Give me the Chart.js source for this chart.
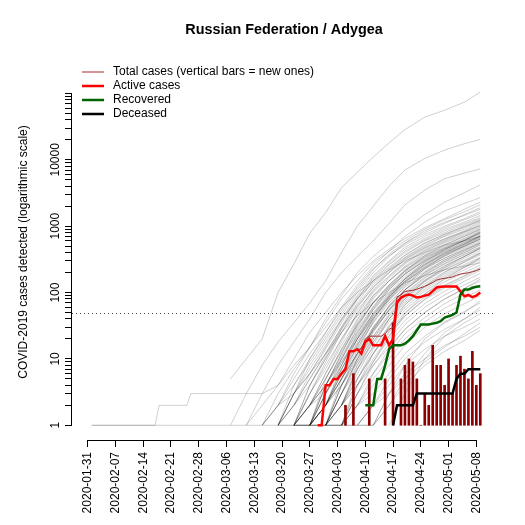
<!DOCTYPE html>
<html>
<head>
<meta charset="utf-8">
<script src="https://cdn.jsdelivr.net/npm/chart.js@4.4.1/dist/chart.umd.min.js"></script>
<style>
  html, body { margin: 0; padding: 0; background: #fff; }
  #chart { display: block; }
</style>
</head>
<body>
<canvas id="chart" width="525" height="525"></canvas>
<script>
const _ = null;
const FONT = '"Liberation Sans", Arial, Helvetica, sans-serif';

const chartTitle = 'Russian Federation / Adygea';
const yAxisTitle = 'COVID-2019 cases detected (logarithmic scale)';
const tickDates = ['2020-01-31', '2020-02-07', '2020-02-14', '2020-02-21', '2020-02-28',
  '2020-03-06', '2020-03-13', '2020-03-20', '2020-03-27', '2020-04-03', '2020-04-10',
  '2020-04-17', '2020-04-24', '2020-05-01', '2020-05-08'];
const yLabelTicks = [1, 10, 100, 1000, 10000];
const thresholdCases = 50;

// Adygea, one value per day starting at day 58 (days counted from 2020-01-31)
const adygeaFirstDay = 58;
const totalCases = [1, 1, 4, 4, 5, 5, 6, 7, 13, 13, 14, 14,
  20, 22, 22, 22, 22, 24, 28, 30, 86, 92,
  104, 106, 108, 112, 118, 124, 132, 142, 154, 160,
  164, 167, 172, 182, 190, 194, 199, 206, 214, 227];
const activeCases = [1, 1, 4, 4, 5, 5, 6, 7, 13, 13, 14, 12,
  18, 20, 16, 16, 16, 22, 16, 20, 70, 84,
  90, 93, 90, 84, 86, 90, 93, 105, 119, 122,
  123, 123, 123, 123, 104, 88, 92, 85, 90, 100];
const recoveredCases = [_, _, _, _, _, _, _, _, _, _, _, _,
  2, 2, 2, 5, 5, 8, 14, 16, 16, 16,
  17, 19, 22, 27, 33, 33, 33, 34, 35, 37,
  42, 44, 46, 50, 93, 111, 111, 118, 122, 124];
const deceasedCases = [_, _, _, _, _, _, _, _, _, _, _, _,
  _, _, _, _, _, _, _, 1, 2, 2,
  2, 2, 2, 3, 3, 3, 3, 3, 3, 3,
  3, 3, 3, 5, 6, 6, 7, 7, 7, 7];
const newCases = [_, _, _, _, _, _, _, 2, _, 6, _, _,
  _, 5, _, _, _, 5, _, 35, _, 5,
  8, 10, 9, 5, 1, 3, 2, 16, 8, 8,
  4, 10, 3, 8, 11, 7, 5, 13, 4, 6];

// other regions (grey): early / leading regions
const leadDays = [1, 17, 18, 25, 26, 33, 36, 40, 44, 48, 52, 56, 60, 64, 68, 72, 76, 80, 85, 90, 95, 99];
const leadRegions = [
  [1, 1, 2, 2, 3, 3, 3, 3, 3, 4, 8, 15, 30, 60, 100, 150, 220, 300, 400, 520, 600, 700],
  [1, 1, 1, 1, 1, 1, 1, 1, 1, 2, 3, 6, 12, 25, 45, 70, 100, 140, 180, 220, 250, 280],
  [_, _, _, _, _, _, 5, 10, 20, 100, 270, 780, 1600, 3800, 6500, 11000, 18000, 28500, 44000, 56000, 74000, 105000],
  [_, _, _, _, _, _, 1, 3, 8, 18, 35, 70, 150, 400, 1000, 2000, 4000, 7000, 10500, 14000, 17500, 20300],
  [_, _, _, _, _, _, _, 1, 3, 8, 18, 40, 100, 200, 350, 600, 1100, 2100, 3500, 5200, 6300, 7300],
  [_, _, _, _, _, _, _, _, 1, 2, 6, 15, 40, 90, 200, 350, 550, 900, 1500, 2300, 3200, 4200],
  [_, _, _, _, _, _, _, _, _, 1, 3, 10, 25, 60, 130, 250, 420, 700, 1150, 1700, 2200, 2700]
];

// other regions (grey): the main bundle
const bundleDays = [36, 40, 44, 48, 52, 56, 60, 64, 68, 72, 76, 80, 85, 90, 95, 99];
const bundleRegions = [
  [_, 1, 2, 4, 10, 25, 50, 100, 180, 300, 450, 650, 950, 1300, 1800, 2300],
  [_, _, 1, 3, 7, 15, 35, 80, 150, 280, 420, 600, 900, 1250, 1650, 2100],
  [_, _, 1, 2, 4, 9, 20, 45, 100, 200, 350, 550, 800, 1100, 1500, 1900],
  [_, _, _, 1, 4, 10, 22, 50, 110, 220, 380, 560, 850, 1150, 1450, 1800],
  [_, _, _, 2, 5, 12, 25, 55, 120, 230, 360, 520, 750, 1000, 1300, 1650],
  [_, _, _, 1, 3, 6, 15, 40, 90, 180, 300, 480, 700, 950, 1250, 1550],
  [_, _, 1, 1, 2, 5, 12, 30, 80, 170, 290, 450, 650, 900, 1150, 1450],
  [_, _, _, 1, 2, 6, 14, 35, 85, 160, 270, 420, 620, 850, 1100, 1350],
  [_, _, _, _, 1, 4, 10, 28, 70, 150, 260, 400, 600, 800, 1050, 1300],
  [_, _, _, 1, 3, 8, 18, 40, 80, 140, 230, 360, 550, 750, 1000, 1250],
  [_, _, _, _, 2, 5, 12, 30, 65, 130, 220, 340, 520, 720, 950, 1200],
  [_, _, _, _, 1, 3, 9, 25, 60, 120, 210, 330, 500, 700, 900, 1150],
  [_, _, _, _, 1, 2, 6, 18, 50, 110, 200, 320, 480, 650, 850, 1100],
  [_, _, _, 1, 2, 4, 10, 25, 55, 105, 180, 290, 450, 620, 820, 1050],
  [_, _, _, _, 1, 3, 7, 20, 48, 100, 175, 280, 430, 600, 800, 1000],
  [_, _, _, _, _, 2, 6, 16, 40, 90, 165, 270, 420, 580, 760, 960],
  [_, _, _, _, 1, 1, 4, 12, 35, 80, 150, 250, 400, 560, 730, 920],
  [_, _, _, _, _, 1, 5, 14, 38, 85, 150, 240, 380, 530, 700, 880],
  [_, _, _, 1, 1, 3, 8, 20, 45, 90, 150, 235, 360, 500, 660, 850],
  [_, _, _, _, _, 1, 3, 10, 30, 70, 130, 220, 350, 480, 640, 820],
  [_, _, _, _, 1, 2, 5, 13, 32, 70, 125, 210, 330, 460, 610, 790],
  [_, _, _, _, _, 1, 4, 11, 28, 62, 115, 200, 320, 450, 590, 760],
  [_, _, _, _, _, _, 2, 8, 24, 58, 110, 190, 300, 430, 570, 730],
  [_, _, _, _, 1, 2, 4, 10, 25, 55, 100, 175, 285, 410, 540, 700],
  [_, _, _, _, _, 1, 2, 7, 20, 50, 95, 165, 270, 390, 520, 670],
  [_, _, _, _, _, _, 1, 5, 16, 42, 85, 150, 250, 370, 500, 640],
  [_, _, _, _, _, 1, 3, 8, 20, 45, 85, 145, 240, 350, 470, 610],
  [_, _, _, _, _, _, 1, 4, 13, 36, 75, 135, 225, 330, 450, 580],
  [_, _, _, 1, 1, 2, 4, 9, 20, 42, 78, 130, 210, 310, 420, 550],
  [_, _, _, _, _, _, 2, 6, 15, 35, 70, 120, 200, 295, 400, 520],
  [_, _, _, _, _, 1, 2, 5, 12, 30, 62, 110, 185, 275, 380, 490],
  [_, _, _, _, _, _, 1, 3, 10, 26, 55, 100, 170, 255, 350, 460],
  [_, _, _, _, 1, 1, 2, 5, 12, 27, 52, 92, 155, 235, 330, 430],
  [_, _, _, _, _, _, _, 2, 8, 22, 48, 88, 150, 225, 310, 400],
  [_, _, _, _, _, 1, 2, 4, 10, 22, 44, 80, 135, 205, 285, 370],
  [_, _, _, _, _, _, 1, 2, 7, 18, 40, 75, 125, 190, 265, 340],
  [_, _, _, _, _, _, 1, 3, 8, 18, 36, 66, 112, 170, 240, 310],
  [_, _, _, _, _, _, _, 1, 5, 14, 32, 60, 105, 160, 220, 290],
  [_, _, _, _, 1, 1, 1, 3, 7, 15, 30, 55, 95, 145, 200, 260],
  [_, _, _, _, _, _, 1, 2, 5, 12, 26, 50, 85, 130, 180, 240],
  [_, _, _, _, _, _, _, 1, 4, 10, 22, 44, 78, 118, 165, 215],
  [_, _, _, _, _, 1, 1, 2, 4, 9, 20, 38, 68, 105, 148, 195],
  [_, _, _, _, _, _, 1, 1, 3, 8, 17, 33, 60, 92, 130, 170],
  [_, _, _, _, _, _, _, 1, 2, 6, 14, 28, 50, 80, 115, 150],
  [_, _, _, _, _, 1, 1, 1, 3, 6, 12, 24, 42, 68, 98, 130],
  [_, _, _, _, _, _, 1, 1, 2, 5, 10, 20, 36, 58, 82, 110],
  [_, _, _, _, _, _, _, 1, 2, 4, 8, 16, 30, 48, 68, 90],
  [_, _, _, _, _, _, 1, 1, 2, 3, 6, 12, 22, 36, 52, 70],
  [_, _, _, _, _, _, _, _, 1, 2, 5, 10, 18, 28, 40, 55],
  [_, _, _, _, _, _, _, 1, 1, 2, 4, 8, 14, 22, 30, 40],
  [_, _, _, _, _, _, _, _, 1, 1, 3, 6, 10, 16, 22, 30],
  [_, _, _, _, _, _, _, _, _, 1, 2, 4, 8, 13, 19, 27],
  [_, _, _, 1, 3, 7, 16, 38, 80, 150, 240, 370, 560, 760, 980, 1220],
  [_, _, _, _, 1, 4, 11, 28, 62, 120, 200, 310, 470, 640, 830, 1020],
  [_, _, _, _, _, 1, 4, 12, 32, 72, 130, 215, 340, 470, 620, 780],
  [_, _, _, _, 1, 2, 5, 14, 34, 70, 120, 190, 300, 420, 560, 710],
  [_, _, _, _, _, _, 2, 7, 20, 48, 92, 160, 260, 380, 500, 640],
  [_, _, _, _, _, 1, 3, 9, 22, 48, 88, 145, 230, 330, 440, 560],
  [_, _, _, _, _, _, 1, 4, 12, 30, 62, 110, 180, 270, 370, 480],
  [_, _, _, _, _, _, _, 2, 7, 20, 45, 85, 145, 220, 300, 390],
  [_, _, _, _, _, 1, 2, 6, 18, 45, 90, 160, 270, 400, 540, 700],
  [_, _, _, _, _, _, 1, 3, 9, 25, 55, 110, 200, 310, 430, 560],
  [_, _, _, _, 1, 1, 3, 8, 22, 55, 110, 190, 310, 450, 610, 800],
  [_, _, _, _, _, 1, 2, 5, 14, 38, 80, 150, 260, 390, 540, 720],
  [_, _, _, _, _, _, 1, 2, 6, 16, 40, 80, 150, 240, 350, 470],
  [_, _, _, _, _, 2, 4, 10, 26, 60, 120, 210, 360, 520, 700, 900],
  [_, _, _, _, _, _, _, 1, 4, 12, 30, 65, 125, 200, 290, 390],
  [_, _, _, _, _, 1, 1, 4, 11, 28, 60, 110, 190, 290, 400, 530],
  [_, _, _, _, _, _, 1, 3, 10, 28, 64, 125, 230, 360, 510, 680],
  [_, _, _, _, 1, 2, 3, 7, 17, 40, 80, 140, 240, 360, 490, 640],
  [_, _, _, _, _, _, _, 1, 3, 9, 22, 48, 95, 160, 240, 330],
  [_, _, _, _, _, 1, 2, 6, 16, 40, 85, 160, 290, 440, 610, 820],
  [_, _, _, _, _, _, 2, 5, 12, 28, 55, 95, 165, 250, 350, 460],
  [_, _, _, _, _, _, _, 2, 5, 12, 25, 45, 80, 125, 175, 230],
  [_, _, _, _, 1, 1, 2, 4, 9, 20, 40, 70, 120, 180, 250, 330],
  [_, _, _, _, _, _, 1, 2, 4, 8, 15, 28, 50, 80, 115, 160],
  [_, _, _, _, _, _, _, _, 1, 1, 2, 5, 12, 25, 40, 60],
  [_, _, _, _, _, _, _, _, _, 1, 3, 8, 20, 35, 50, 75],
  [_, _, _, _, _, _, _, _, _, _, 1, 3, 10, 22, 35, 48],
  [_, _, _, _, _, _, _, 1, 1, 2, 3, 5, 9, 15, 24, 35]
];

const legendLabels = ['Total cases (vertical bars = new ones)', 'Active cases', 'Recovered', 'Deceased'];

function toPoints(days, values) {
  const pts = [];
  values.forEach((v, i) => { if (v !== null) pts.push({ x: days[i], y: v }); });
  return pts;
}

const adygeaDays = totalCases.map((v, i) => adygeaFirstDay + i);

const greyLine = (values, days) => ({
  type: 'line',
  data: toPoints(days, values),
  borderColor: 'rgba(0,0,0,0.19)',
  borderWidth: 1,
  pointRadius: 0,
  tension: 0,
  fill: false,
  order: 20
});

const datasets = [];
datasets.push({
  type: 'line', label: legendLabels[3], data: toPoints(adygeaDays, deceasedCases),
  borderColor: '#000000', borderWidth: 2.5, pointRadius: 0, tension: 0, order: 0
});
datasets.push({
  type: 'line', label: legendLabels[2], data: toPoints(adygeaDays, recoveredCases),
  borderColor: '#006400', borderWidth: 2.5, pointRadius: 0, tension: 0, order: 1
});
datasets.push({
  type: 'line', label: legendLabels[1], data: toPoints(adygeaDays, activeCases),
  borderColor: '#ff0000', borderWidth: 2.5, pointRadius: 0, tension: 0, order: 2
});
datasets.push({
  type: 'line', label: legendLabels[0], data: toPoints(adygeaDays, totalCases),
  borderColor: '#a52a2a', borderWidth: 1, pointRadius: 0, tension: 0, order: 3
});
datasets.push({
  type: 'bar', label: 'New cases',
  data: newCases.map((v, i) => (v ? { x: adygeaDays[i], y: [1, v] } : null)).filter(Boolean),
  backgroundColor: '#8b0000', barThickness: 2, grouped: false, order: 4
});
leadRegions.forEach(r => datasets.push(greyLine(r, leadDays)));
bundleRegions.forEach(r => datasets.push(greyLine(r, bundleDays)));

const decorPlugin = {
  id: 'decor',
  beforeDatasetsDraw(chart) {
    const { ctx, chartArea, scales: { y } } = chart;
    const yy = Math.round(y.getPixelForValue(thresholdCases)) + 0.5;
    ctx.save();
    ctx.strokeStyle = '#444';
    ctx.lineWidth = 1;
    ctx.setLineDash([1, 3]);
    ctx.beginPath();
    ctx.moveTo(chartArea.left, yy);
    ctx.lineTo(chartArea.right, yy);
    ctx.stroke();
    ctx.restore();
  },
  afterDraw(chart) {
    const { ctx, chartArea, scales: { x, y } } = chart;
    ctx.save();
    // axis lines only span first..last tick, like base R
    ctx.strokeStyle = '#000';
    ctx.lineWidth = 1;
    ctx.beginPath();
    ctx.moveTo(x.getPixelForValue(0), chartArea.bottom + 0.5);
    ctx.lineTo(x.getPixelForValue((tickDates.length - 1) * 7), chartArea.bottom + 0.5);
    ctx.moveTo(chartArea.left - 0.5, y.getPixelForValue(1));
    ctx.lineTo(chartArea.left - 0.5, y.getPixelForValue(100000));
    ctx.stroke();

    // title
    ctx.fillStyle = '#000';
    ctx.font = 'bold 14.4px ' + FONT;
    ctx.textAlign = 'center';
    ctx.textBaseline = 'middle';
    ctx.fillText(chartTitle, (chartArea.left + chartArea.right) / 2, 30);

    // legend top-left inside plot
    ctx.font = '12px ' + FONT;
    ctx.textAlign = 'left';
    legendLabels.forEach((label, i) => {
      const ds = chart.data.datasets.find(d => d.label === label);
      const yy = chartArea.top + 8 + i * 14;
      ctx.strokeStyle = ds.borderColor;
      ctx.lineWidth = ds.borderWidth;
      ctx.beginPath();
      ctx.moveTo(chartArea.left + 10, yy);
      ctx.lineTo(chartArea.left + 32, yy);
      ctx.stroke();
      ctx.fillText(label, chartArea.left + 41, yy);
    });
    ctx.restore();
  }
};

new Chart(document.getElementById('chart'), {
  type: 'line',
  data: { datasets },
  plugins: [decorPlugin],
  options: {
    responsive: false,
    animation: false,
    events: [],
    layout: { padding: { left: 0, right: 29, top: 64, bottom: 0 } },
    plugins: { legend: { display: false }, tooltip: { enabled: false } },
    scales: {
      x: {
        type: 'linear',
        offset: false,
        min: -3.96,
        max: 102.96,
        afterFit: s => { s.height = 85; },
        afterBuildTicks: s => { s.ticks = tickDates.map((d, i) => ({ value: i * 7 })); },
        border: { display: false },
        grid: { display: true, offset: false, drawOnChartArea: false, drawTicks: true, tickLength: 7, tickColor: '#000' },
        ticks: {
          autoSkip: false, minRotation: 90, maxRotation: 90, padding: 5,
          color: '#000', font: { family: FONT, size: 12 },
          callback: (v, i) => tickDates[i]
        }
      },
      y: {
        type: 'logarithmic',
        min: 0.616,
        max: 277800,
        afterFit: s => { s.width = 72; },
        afterBuildTicks: s => {
          const ticks = [];
          for (let e = 0; e <= 4; e++) {
            for (let m = 1; m <= 9; m++) ticks.push({ value: m * Math.pow(10, e) });
          }
          ticks.push({ value: 100000 });
          s.ticks = ticks;
        },
        border: { display: false },
        grid: { display: true, drawOnChartArea: false, drawTicks: true, tickLength: 7, tickColor: '#000' },
        title: {
          display: true, text: yAxisTitle, color: '#000',
          font: { family: FONT, size: 12 }, padding: { top: 16, bottom: 0 }
        },
        ticks: {
          autoSkip: false, minRotation: 90, maxRotation: 90, crossAlign: 'center', padding: -7,
          color: '#000', font: { family: FONT, size: 12 },
          callback: v => (yLabelTicks.includes(v) ? String(v) : '')
        }
      }
    }
  }
});
</script>
</body>
</html>
